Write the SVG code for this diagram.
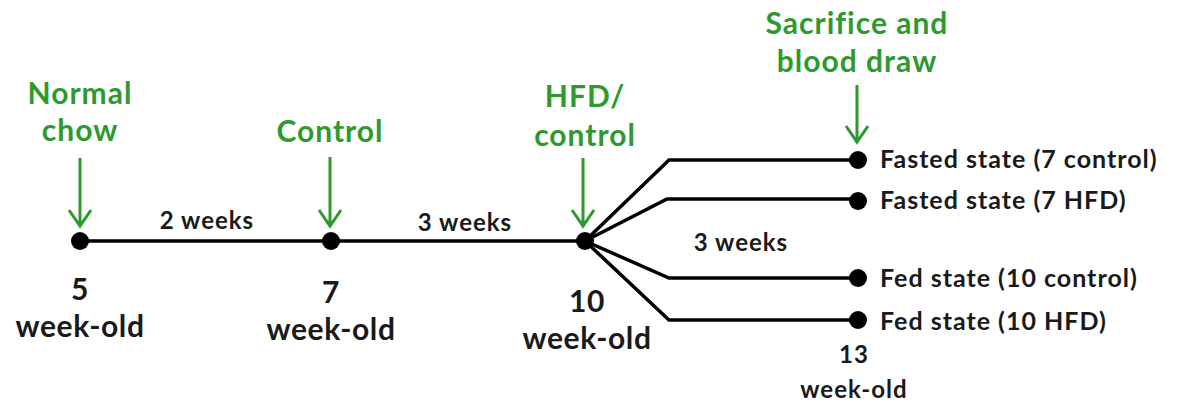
<svg xmlns="http://www.w3.org/2000/svg" width="1178" height="406" viewBox="0 0 1178 406">
<style>
.t{font-family:Lato,"Liberation Sans",sans-serif;font-weight:bold;fill:#1a1a1a;text-anchor:middle}
.big{font-size:30px;letter-spacing:0.6px}
.sm{font-size:24px;letter-spacing:1px}
.g{fill:#2e9a2e;font-size:30px;letter-spacing:1px}
.lab{text-anchor:start;font-size:25px;letter-spacing:1px}
.ln{stroke:#000;stroke-width:3.5;fill:none}
.arr{stroke:#2e9a2e;stroke-width:3;fill:none}
</style>
<rect width="1178" height="406" fill="#fff"/>
<g id="connectors">
<path class="ln" d="M80 241 H585"/>
<path class="ln" d="M585 241 L669 160 H857"/>
<path class="ln" d="M585 241 L667 199 H857"/>
<path class="ln" d="M585 241 L669 278 H857"/>
<path class="ln" d="M585 241 L669 320 H857"/>
<text class="t sm" x="207" y="229">2 weeks</text>
<text class="t sm" x="465" y="231">3 weeks</text>
<text class="t sm" x="741" y="251">3 weeks</text>
</g>
<g id="n5">
<circle cx="80" cy="241" r="9"/>
<text class="t big" x="80" y="300">5</text>
<text class="t big" x="80" y="337">week-old</text>
<text class="t g" x="80" y="104">Normal</text>
<text class="t g" x="80" y="141">chow</text>
<path class="arr" d="M80 158 V226 M69 210 L80 226 L91 210"/>
</g>
<g id="n7">
<circle cx="331" cy="241" r="9"/>
<text class="t big" x="331" y="303">7</text>
<text class="t big" x="331" y="340">week-old</text>
<text class="t g" x="330" y="142">Control</text>
<path class="arr" d="M330 157 V226 M319 210 L330 226 L341 210"/>
</g>
<g id="n10">
<circle cx="585" cy="241" r="9"/>
<text class="t big" x="587" y="312">10</text>
<text class="t big" x="587" y="349">week-old</text>
<text class="t g" x="585" y="107">HFD/</text>
<text class="t g" x="585" y="146">control</text>
<path class="arr" d="M583 158 V226 M572 210 L583 226 L594 210"/>
</g>
<g id="n13">
<circle cx="858" cy="160" r="9"/>
<circle cx="858" cy="201" r="9"/>
<circle cx="858" cy="278" r="9"/>
<circle cx="858" cy="320" r="9"/>
<text class="t g" x="857" y="34">Sacrifice and</text>
<text class="t g" x="857" y="72">blood draw</text>
<path class="arr" d="M857 85 V142 M846 126 L857 142 L868 126"/>
<text class="t lab" x="880" y="168">Fasted state (7 control)</text>
<text class="t lab" x="880" y="209">Fasted state (7 HFD)</text>
<text class="t lab" x="880" y="287">Fed state (10 control)</text>
<text class="t lab" x="880" y="330">Fed state (10 HFD)</text>
<text class="t sm" x="854" y="363">13</text>
<text class="t sm" x="854" y="398">week-old</text>
</g>
</svg>
